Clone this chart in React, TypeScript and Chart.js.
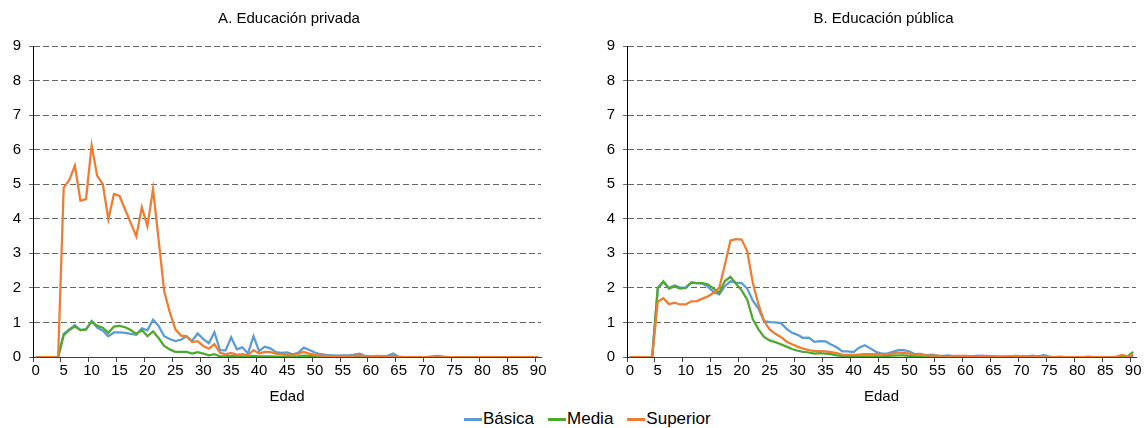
import React, { useEffect, useRef } from "react";
import { Chart, registerables } from "chart.js";

Chart.register(...registerables);

const FONT = "'Liberation Sans', Arial, sans-serif";

const AGES = [
  "0", "1", "2", "3", "4", "5", "6", "7", "8", "9", "10", "11", "12", "13", "14",
  "15", "16", "17", "18", "19", "20", "21", "22", "23", "24", "25", "26", "27",
  "28", "29", "30", "31", "32", "33", "34", "35", "36", "37", "38", "39", "40",
  "41", "42", "43", "44", "45", "46", "47", "48", "49", "50", "51", "52", "53",
  "54", "55", "56", "57", "58", "59", "60", "61", "62", "63", "64", "65", "66",
  "67", "68", "69", "70", "71", "72", "73", "74", "75", "76", "77", "78", "79",
  "80", "81", "82", "83", "84", "85", "86", "87", "88", "89", "90",
];
const LABEL_EVERY = 5;

const SERIES_NAMES = ["Básica", "Media", "Superior"];
const TITLE_A = "A. Educación privada";
const TITLE_B = "B. Educación pública";
const X_TITLE = "Edad";
const Y_MIN = 0;
const Y_MAX = 9;

// A. Educación privada
const privBasica = [
  0, 0, 0, 0, 0,
  0.67, 0.8, 0.92, 0.78, 0.8,
  1.04, 0.85, 0.76, 0.6, 0.71,
  0.71, 0.7, 0.67, 0.64, 0.83,
  0.77, 1.08, 0.9, 0.6, 0.52,
  0.46, 0.5, 0.6, 0.47, 0.68,
  0.52, 0.4, 0.72, 0.2, 0.19,
  0.57, 0.22, 0.28, 0.1, 0.6,
  0.17, 0.3, 0.25, 0.14, 0.12,
  0.13, 0.08, 0.12, 0.27, 0.2,
  0.13, 0.08, 0.06, 0.05, 0.04,
  0.05, 0.05, 0.07, 0.1, 0.03,
  0.01, 0.02, 0.02, 0.03, 0.1,
  0.01, 0, 0, 0, 0,
  0, 0.02, 0.03, 0.01, 0,
  0, 0, 0, 0, 0,
  0, 0, 0, 0, 0,
  0, 0, 0, 0, 0,
  0,
];

const privMedia = [
  0, 0, 0, 0, 0,
  0.63, 0.78, 0.88, 0.78, 0.8,
  1.03, 0.9, 0.85, 0.7, 0.88,
  0.9, 0.86, 0.78, 0.67, 0.78,
  0.6, 0.74, 0.55, 0.32, 0.22,
  0.15, 0.15, 0.15, 0.1, 0.14,
  0.1, 0.05, 0.08, 0.02, 0.02,
  0.03, 0.02, 0.02, 0.01, 0.03,
  0.02, 0.02, 0.02, 0.01, 0.01,
  0.02, 0.01, 0.02, 0.04, 0.03,
  0.02, 0.01, 0.01, 0.01, 0.01,
  0.01, 0.01, 0.02, 0.02, 0.01,
  0.01, 0.01, 0.01, 0.02, 0.01,
  0, 0, 0, 0, 0,
  0, 0, 0, 0, 0,
  0, 0, 0, 0, 0,
  0, 0, 0, 0, 0,
  0, 0, 0, 0, 0,
  0,
];

const privSuperior = [
  0, 0, 0, 0, 0,
  4.9, 5.12, 5.54, 4.52, 4.57,
  6.12, 5.24, 5.0, 3.99, 4.72,
  4.66, 4.27, 3.88, 3.49, 4.33,
  3.78, 4.86, 3.4, 1.9, 1.3,
  0.8, 0.62, 0.6, 0.43, 0.46,
  0.32, 0.24, 0.37, 0.12, 0.08,
  0.12, 0.06, 0.08, 0.05, 0.2,
  0.1, 0.15, 0.14, 0.1, 0.08,
  0.07, 0.05, 0.09, 0.15, 0.1,
  0.06, 0.04, 0.03, 0.02, 0.02,
  0.03, 0.02, 0.04, 0.05, 0.02,
  0, 0.03, 0.01, 0.02, 0.03,
  0, 0, 0, 0, 0,
  0, 0, 0, 0, 0,
  0, 0, 0, 0, 0,
  0, 0, 0, 0, 0,
  0, 0, 0, 0, 0,
  0,
];

// B. Educación pública
const pubBasica = [
  0, 0, 0, 0, 0,
  1.98, 2.17, 2.0, 2.07, 2.01,
  2.01, 2.16, 2.14, 2.12, 2.03,
  1.88, 1.81, 2.05, 2.19, 2.15,
  2.14, 1.98, 1.63, 1.4, 1.04,
  1.01, 1.0, 0.98, 0.82, 0.7,
  0.64, 0.55, 0.56, 0.44, 0.46,
  0.45, 0.36, 0.28, 0.16, 0.16,
  0.14, 0.27, 0.34, 0.25, 0.15,
  0.1, 0.1, 0.15, 0.2, 0.2,
  0.16, 0.08, 0.09, 0.05, 0.07,
  0.04, 0.03, 0.05, 0.02, 0.02,
  0.03, 0.01, 0.03, 0.04, 0.02,
  0.01, 0.02, 0.01, 0.02, 0.03,
  0.02, 0.02, 0.04, 0.02, 0.05,
  0.01, 0, 0.01, 0, 0,
  0, 0, 0.01, 0, 0,
  0, 0, 0, 0.02, 0,
  0,
];

const pubMedia = [
  0, 0, 0, 0, 0,
  2.0, 2.19, 1.98, 2.04, 1.98,
  2.0, 2.15, 2.14, 2.14, 2.1,
  1.98, 1.86, 2.2, 2.32, 2.12,
  1.93, 1.66, 1.09, 0.8, 0.58,
  0.48, 0.43, 0.37, 0.3, 0.23,
  0.18, 0.15, 0.13, 0.1, 0.11,
  0.1, 0.08, 0.05, 0.03, 0.02,
  0.02, 0.02, 0.02, 0.02, 0.02,
  0.02, 0.03, 0.04, 0.05, 0.05,
  0.03, 0.02, 0.02, 0.02, 0.02,
  0.02, 0.01, 0.02, 0.01, 0.01,
  0.01, 0.01, 0.01, 0.01, 0.01,
  0.01, 0, 0.01, 0, 0.01,
  0, 0.01, 0, 0.01, 0,
  0, 0, 0, 0, 0,
  0, 0, 0, 0, 0,
  0, 0, 0, 0.01, 0.02,
  0.15,
];

const pubSuperior = [
  0, 0, 0, 0, 0,
  1.6, 1.7, 1.53, 1.57, 1.52,
  1.52, 1.61, 1.62, 1.69, 1.76,
  1.86, 2.0, 2.67, 3.37, 3.41,
  3.4, 3.06, 2.14, 1.52, 1.04,
  0.8, 0.67, 0.58, 0.45, 0.37,
  0.3, 0.24, 0.2, 0.17, 0.17,
  0.16, 0.14, 0.11, 0.07, 0.06,
  0.06, 0.07, 0.08, 0.08, 0.08,
  0.08, 0.08, 0.1, 0.13, 0.12,
  0.1, 0.07, 0.06, 0.05, 0.04,
  0.04, 0.02, 0.01, 0.03, 0.03,
  0.03, 0.01, 0, 0.02, 0.03,
  0.02, 0, 0, 0.01, 0.03,
  0.01, 0.02, 0.01, 0.02, 0.01,
  0, 0, 0, 0, 0,
  0, 0, 0, 0, 0,
  0, 0, 0.01, 0.06, 0.02,
  0.06,
];

const COLORS = ["#5B9BD5", "#4EA72E", "#ED7D31"];

const LEFT_W = 574;
const RIGHT_X = 594;
const RIGHT_W = 554;
const CANVAS_H = 406;
const PLOT_TOP = 46;
const PLOT_BOTTOM = 357;

const plotTitlePlugin = {
  id: "plotTitle",
  afterDraw(chart: any, _args: any, opts: any) {
    const { ctx, chartArea } = chart;
    ctx.save();
    ctx.fillStyle = "#000";
    ctx.font = `15px ${FONT}`;
    ctx.textAlign = "center";
    ctx.textBaseline = "middle";
    ctx.fillText(opts.text, (chartArea.left + chartArea.right) / 2 + (opts.dx || 0), 19);
    ctx.restore();
  },
};

function buildConfig(title: string, series: number[][], padRight: number): any {
  const tickFont = { family: FONT, size: 15 };
  return {
    type: "line",
    data: {
      labels: AGES,
      datasets: series.map((d, i) => ({
        label: SERIES_NAMES[i],
        data: d,
        borderColor: COLORS[i],
        backgroundColor: COLORS[i],
        borderWidth: 2.25,
        pointRadius: 0,
        pointHoverRadius: 0,
        tension: 0,
        fill: false,
        order: 2 - i,
      })),
    },
    plugins: [plotTitlePlugin],
    options: {
      animation: false,
      responsive: false,
      maintainAspectRatio: false,
      events: [],
      layout: { padding: { left: 0, right: padRight, top: PLOT_TOP, bottom: 0 } },
      plugins: {
        legend: { display: false },
        tooltip: { enabled: false },
        title: { display: false },
        plotTitle: { text: title, dx: 2 },
      },
      scales: {
        x: {
          type: "category",
          offset: true,
          ticks: {
            autoSkip: false,
            maxRotation: 0,
            minRotation: 0,
            color: "#000",
            font: tickFont,
            padding: 0,
            callback: (_v: any, idx: number) => (idx % LABEL_EVERY === 0 ? AGES[idx] : ""),
          },
          grid: {
            offset: true,
            drawOnChartArea: false,
            drawTicks: true,
            tickLength: 5,
            color: (c: any) => (c.index % LABEL_EVERY === 0 ? "#404040" : "rgba(0,0,0,0)"),
            lineWidth: 1,
          },
          border: { display: true, color: "#404040", width: 1 },
          title: {
            display: true,
            text: X_TITLE,
            color: "#000",
            font: tickFont,
            padding: 0,
          },
          afterFit: (s: any) => {
            s.height = CANVAS_H - PLOT_BOTTOM;
          },
        },
        y: {
          min: Y_MIN,
          max: Y_MAX,
          ticks: {
            stepSize: 1,
            color: "#000",
            font: tickFont,
            padding: 8,
          },
          grid: {
            color: "#666666",
            lineWidth: 1,
            tickLength: 4,
            tickColor: "#666666",
          },
          border: { display: true, color: "#000", width: 1, dash: [6, 3] },
          afterFit: (s: any) => {
            s.width = 33;
          },
        },
      },
    },
  };
}

export default function App() {
  const leftRef = useRef<HTMLCanvasElement>(null);
  const rightRef = useRef<HTMLCanvasElement>(null);

  useEffect(() => {
    const a = new Chart(
      leftRef.current as HTMLCanvasElement,
      buildConfig(TITLE_A, [privBasica, privMedia, privSuperior], 33)
    );
    const b = new Chart(
      rightRef.current as HTMLCanvasElement,
      buildConfig(TITLE_B, [pubBasica, pubMedia, pubSuperior], 12)
    );
    return () => {
      a.destroy();
      b.destroy();
    };
  }, []);

  return (
    <div
      style={{
        position: "absolute",
        left: 0,
        top: 0,
        width: 1148,
        height: 428,
        overflow: "hidden",
        background: "#fff",
        fontFamily: FONT,
      }}
    >
      <canvas
        ref={leftRef}
        width={LEFT_W}
        height={CANVAS_H}
        style={{ position: "absolute", left: 0, top: 0, width: LEFT_W, height: CANVAS_H }}
      />
      <canvas
        ref={rightRef}
        width={RIGHT_W}
        height={CANVAS_H}
        style={{ position: "absolute", left: RIGHT_X, top: 0, width: RIGHT_W, height: CANVAS_H }}
      />
      <div
        style={{
          position: "absolute",
          top: 409,
          left: 464,
          height: 20,
          display: "flex",
          alignItems: "center",
          fontSize: 17,
          lineHeight: "20px",
          color: "#000",
          whiteSpace: "nowrap",
        }}
      >
        {SERIES_NAMES.map((name, i) => (
          <div key={name} style={{ display: "flex", alignItems: "center", marginRight: 14 }}>
            <span
              style={{
                display: "inline-block",
                width: 18,
                height: 3,
                background: COLORS[i],
                marginRight: 1,
              }}
            />
            <span>{name}</span>
          </div>
        ))}
      </div>
    </div>
  );
}
